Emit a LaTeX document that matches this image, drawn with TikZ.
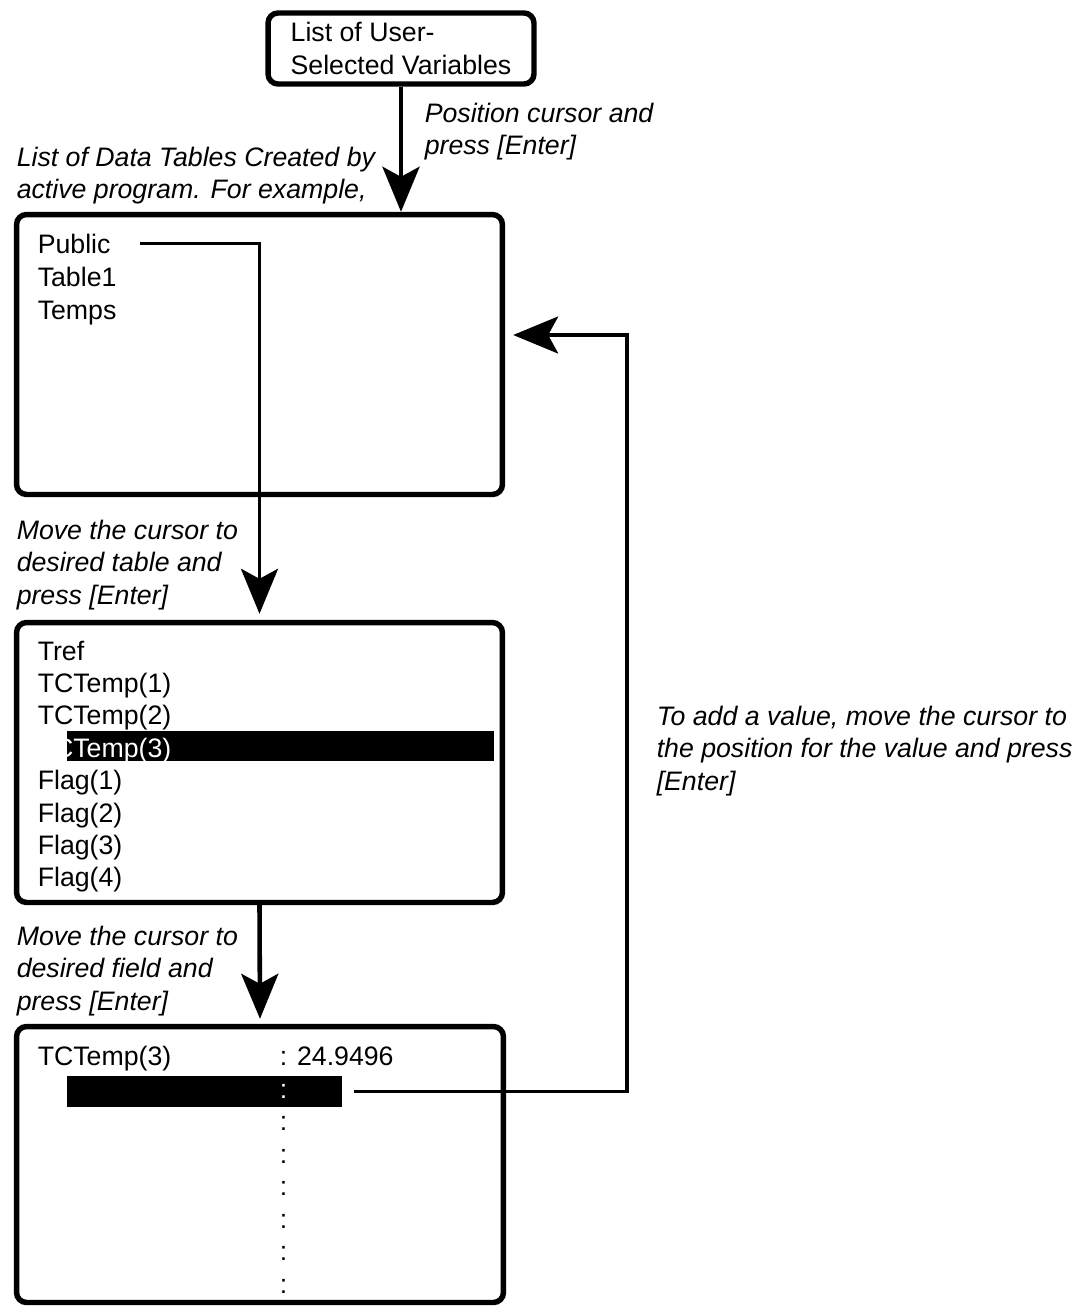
\documentclass[tikz,border=0pt]{standalone}
\usepackage{fontspec}
\setmainfont{Liberation Sans}
\usetikzlibrary{arrows.meta,calc}
\tikzset{
  every picture/.style={line width=2pt},
  txt/.style={font=\fontsize{15.2}{18.4}\selectfont, inner sep=0pt},
  item/.style={txt, anchor=base west},
  note/.style={txt, font=\fontsize{15.2}{18.4}\selectfont\itshape, align=left, anchor=north west},
  screen/.style={draw, line width=3.1pt, rounded corners=0.2cm, fill=white, inner sep=0pt, minimum width=9.72cm, minimum height=5.6cm},
  hilite/.style={fill=black, inner sep=0pt},
  flow/.style={-{Stealth[length=0.9cm,width=0.74cm,inset=0.2cm]}, line width=2pt},
  stem/.style={flow, line width=2.6pt},
}

\begin{document}
\begin{tikzpicture}[x=0.02cm, y=-0.02cm]
  \useasboundingbox (0,0) rectangle (1081,1309);
  % the four screens, top to bottom; coordinates are in pixels of the page
  \node[screen, txt, align=left, minimum width=5.32cm, minimum height=1.42cm] (uservars) at (401,48.5) {List of User-\\Selected Variables};
  \node[screen] (tables) at (259.5,354.5) {};
  \node[screen] (fields) at (259.5,762.5) {};
  \node[screen, minimum width=9.74cm, minimum height=5.52cm] (values) at (260,1164.5) {};

  % data tables
  \node[item] (public) at (36,253) {Public};
  \node[item] (table1) at (36,286) {Table1};
  \node[item] (temps)  at (36,319) {Temps};

  % fields of the chosen table, row 3 is the selected one
  \foreach \name/\i in {Tref/0, TCTemp(1)/1, TCTemp(2)/2, Flag(1)/4, Flag(2)/5, Flag(3)/6, Flag(4)/7}
    \node[item] (fld\i) at (36,{660+32.4*\i}) {\name};
  \node[hilite, minimum width=8.54cm, minimum height=0.6cm] (selrow) at (280.5,746) {};
  \node[item, text=white] (fld3) at (36,757) {TCTemp(3)};

  % values of the chosen field
  \node[item] (valname) at (36,1065) {TCTemp(3)};
  \node[hilite, minimum width=5.5cm, minimum height=0.62cm] (valbar) at (204.5,1091.5) {};
  \node[item] (val1) at (278,1065) {: 24.9496};
  \node[item, text=white] (val2) at (278,1098) {:};
  \foreach \i in {3,...,8}
    \node[item] (val\i) at (278,{1098+32.5*(\i-2)}) {:};

  % notes
  \node[note] (poslbl)   at (423,101.5) {Position cursor and\\press [Enter]};
  \node[note] (listlbl)  at (15,145.5)  {List of Data Tables Created by\\active program. For example,};
  \node[note] (tablelbl) at (15,518.5)  {Move the cursor to\\desired table and\\press [Enter]};
  \node[note] (fieldlbl) at (15,924.5)  {Move the cursor to\\desired field and\\press [Enter]};
  \node[note] (addlbl)   at (655,704.5) {To add a value, move the cursor to\\the position for the value and press\\{}[Enter]};

  % connectors
  \draw[stem] (uservars.south) -- (uservars.south |- tables.north);
  \draw[flow, shorten >=0.12cm] ([xshift=0.56cm]public.east) -| (fields.north);
  \draw[stem, shorten >=0.1cm] (fields.south) -- (values.north);
  \coordinate (loopback) at (627,335);
  \draw[flow, shorten >=0.16cm] ([xshift=0.2cm]valbar.east) -| (loopback) -- (loopback -| tables.east);
\end{tikzpicture}
\end{document}
